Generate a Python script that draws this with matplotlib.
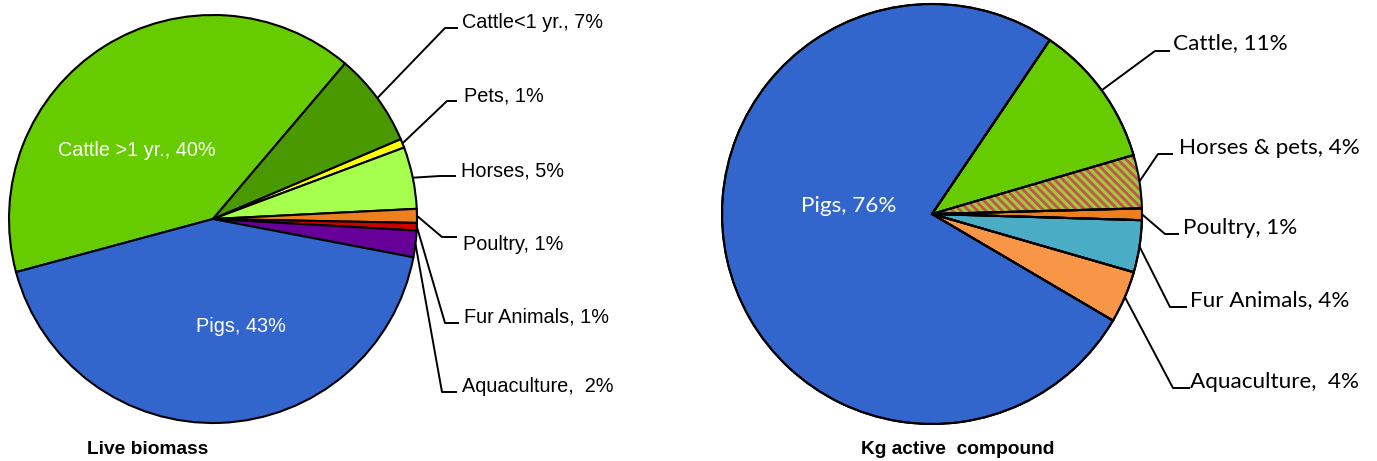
import numpy as np
import matplotlib.pyplot as plt

W, H = 1377, 461

# left pie: live biomass (clockwise from the Pigs / Cattle>1 boundary)
bio_labels = ["Cattle >1 yr., 40%", "Cattle<1 yr., 7%", "Pets, 1%", "Horses, 5%",
              "Poultry, 1%", "Fur Animals, 1%", "Aquaculture,  2%", "Pigs, 43%"]
bio_values = [40.4, 7.4, 0.7, 4.9, 1.1, 0.6, 2.1, 42.8]
bio_colors = ["#66CC00", "#4A9900", "#FFFF00", "#A6FF4D",
              "#EE7F1E", "#CC0000", "#660099", "#3366CC"]

# right pie: kg active compound
kg_labels = ["Cattle, 11%", "Horses & pets, 4%", "Poultry, 1%",
             "Fur Animals, 4%", "Aquaculture,  4%", "Pigs, 76%"]
kg_values = [11.0, 4.1, 0.9, 4.0, 4.0, 76.0]
kg_colors = ["#66CC00", "#9BCB3B", "#EE7F1E", "#4BACC6", "#F79646", "#3366CC"]


def Y(y):
    return H - y


def draw_pie(ax, values, colors, center, radius, start, hatch_idx=None):
    wedges, _ = ax.pie(values, colors=colors, startangle=start, counterclock=False,
                       center=(center[0], Y(center[1])), radius=radius,
                       wedgeprops=dict(edgecolor="black", linewidth=1.5))
    if hatch_idx is not None:
        w = wedges[hatch_idx]
        w.set_edgecolor("#C8504D")
        w.set_linewidth(0)
        w.set_hatch("\\\\\\\\")
        # black outline on top
        ax.pie(values, colors=["none"] * len(values), startangle=start, counterclock=False,
               center=(center[0], Y(center[1])), radius=radius,
               wedgeprops=dict(edgecolor="black", linewidth=1.5, facecolor="none"))
    return wedges


def leader(ax, wedge, center, radius, elbow, end_x, text_xy, text, font, size):
    ang = np.deg2rad((wedge.theta1 + wedge.theta2) / 2)
    sx = center[0] + radius * np.cos(ang)
    sy = Y(center[1]) + radius * np.sin(ang)
    ax.plot([sx, elbow[0], end_x], [sy, Y(elbow[1]), Y(elbow[1])],
            color="black", lw=1.4, solid_capstyle="butt")
    ax.text(text_xy[0], Y(text_xy[1]), text, ha="left", va="center",
            fontsize=size, family=font)


plt.rcParams["hatch.linewidth"] = 2.0

fig = plt.figure(figsize=(W / 100, H / 100), dpi=100)
ax = fig.add_axes([0, 0, 1, 1])

# ---- left pie
c1, r1 = (213, 219), 204
bw = draw_pie(ax, bio_values, bio_colors, c1, r1, 195.1)
font1 = ["Liberation Sans", "DejaVu Sans"]
elbows1 = [(445, 28), (447, 101), (440, 176), (442, 237), (445, 323), (442, 392)]
ends1 = [458, 457, 456, 457, 459, 457]
texts1 = [(462, 23), (464, 96), (461, 171), (463, 245), (464, 317), (462, 387)]
for i in range(6):
    leader(ax, bw[i + 1], c1, r1, elbows1[i], ends1[i], texts1[i],
           bio_labels[i + 1], font1, 14.3)
ax.text(137, Y(151), bio_labels[0], color="white", ha="center", va="center",
        fontsize=14.3, family=font1)
ax.text(241, Y(327), bio_labels[7], color="white", ha="center", va="center",
        fontsize=14.3, family=font1)
ax.text(87, Y(449), "Live biomass", ha="left", va="center", fontsize=13.8,
        fontweight="bold", family=font1)

# ---- right pie
c2, r2 = (932, 214), 210
kw = draw_pie(ax, kg_values, kg_colors, c2, r2, 55.9, hatch_idx=1)
font2 = ["Lato", "DejaVu Sans"]
elbows2 = [(1155, 51), (1158, 154), (1165, 234), (1170, 307), (1173, 388)]
ends2 = [1170, 1173, 1179, 1187, 1190]
texts2 = [(1173, 43), (1179, 148), (1183, 228), (1190, 300), (1190, 382)]
for i in range(5):
    leader(ax, kw[i], c2, r2, elbows2[i], ends2[i], texts2[i],
           kg_labels[i], font2, 16.2)
ax.text(849, Y(206), kg_labels[5], color="white", ha="center", va="center",
        fontsize=16.2, family=font2)
ax.text(861, Y(449), "Kg active  compound", ha="left", va="center", fontsize=13.8,
        fontweight="bold", family=font1)

ax.set_xlim(0, W)
ax.set_ylim(0, H)
ax.set_aspect("equal")
ax.axis("off")

fig.savefig("out.png", dpi=100)
